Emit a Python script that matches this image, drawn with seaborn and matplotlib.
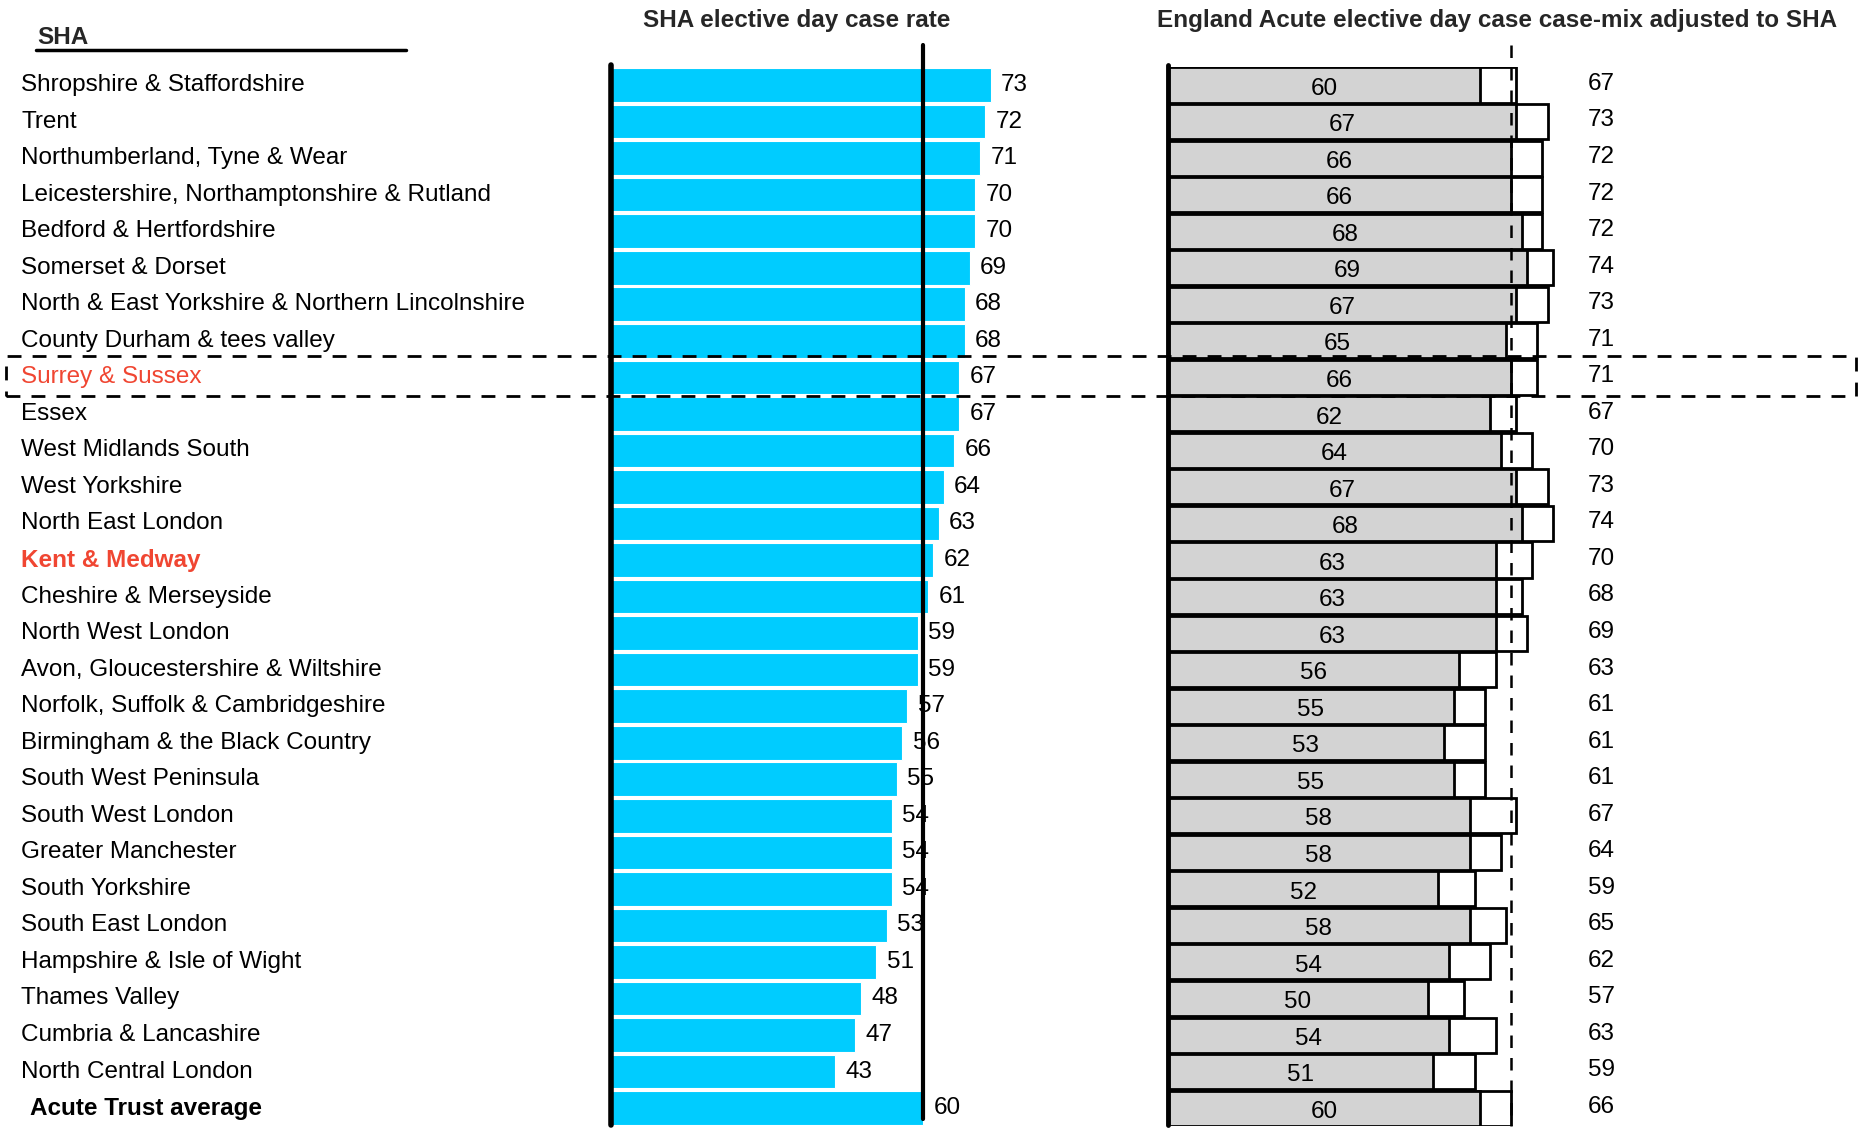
import matplotlib
matplotlib.use("Agg")
import matplotlib.pyplot as plt
import matplotlib.patches as mpatches
import matplotlib.transforms as mtransforms
import seaborn as sns
import pandas as pd

# Strategic Health Authorities, ordered by elective day case rate
sha_names = [
    "Shropshire & Staffordshire", "Trent", "Northumberland, Tyne & Wear",
    "Leicestershire, Northamptonshire & Rutland", "Bedford & Hertfordshire",
    "Somerset & Dorset", "North & East Yorkshire & Northern Lincolnshire",
    "County Durham & tees valley", "Surrey & Sussex", "Essex",
    "West Midlands South", "West Yorkshire", "North East London",
    "Kent & Medway", "Cheshire & Merseyside", "North West London",
    "Avon, Gloucestershire & Wiltshire", "Norfolk, Suffolk & Cambridgeshire",
    "Birmingham & the Black Country", "South West Peninsula",
    "South West London", "Greater Manchester", "South Yorkshire",
    "South East London", "Hampshire & Isle of Wight", "Thames Valley",
    "Cumbria & Lancashire", "North Central London", "Acute Trust average",
]
# SHA elective day case rate (%)
sha_rate = [73, 72, 71, 70, 70, 69, 68, 68, 67, 67, 66, 64, 63, 62, 61, 59,
            59, 57, 56, 55, 54, 54, 54, 53, 51, 48, 47, 43, 60]
# England acute elective day case rate (%)
england_rate = [60, 67, 66, 66, 68, 69, 67, 65, 66, 62, 64, 67, 68, 63, 63, 63,
                56, 55, 53, 55, 58, 58, 52, 58, 54, 50, 54, 51, 60]
# England rate case-mix adjusted to SHA (%)
adjusted_rate = [67, 73, 72, 72, 72, 74, 73, 71, 71, 67, 70, 73, 74, 70, 68, 69,
                 63, 61, 61, 61, 67, 64, 59, 65, 62, 57, 63, 59, 66]
# Reference lines
sha_average = 60
adjusted_average = 66

df = pd.DataFrame({"sha": sha_names, "rate": sha_rate,
                   "england": england_rate, "adjusted": adjusted_rate})

sns.set_theme(style="white")
plt.rcParams["font.family"] = ["Liberation Sans", "DejaVu Sans"]

W, H = 1860, 1128
fig = plt.figure(figsize=(W / 100, H / 100), dpi=100)

row_px = 36.54
top_px = 85 - row_px / 2
bot_px = 85 + 28 * row_px + row_px / 2
scale = 5.2  # pixels per percentage point
xmax = 80


def axes_rect(x0_px):
    return [x0_px / W, 1 - bot_px / H, xmax * scale / W, (bot_px - top_px) / H]


ax_l = fig.add_axes(axes_rect(611))
ax_r = fig.add_axes(axes_rect(1168))

FS = 17.5
blue = "#00CCFF"
red = "#F04632"

# Left panel: SHA rates
sns.barplot(data=df, x="rate", y="sha", orient="h", color=blue, saturation=1,
            width=0.92, edgecolor="white", linewidth=0.8, ax=ax_l)

# Right panel: adjusted (white box) behind England rate (grey)
sns.barplot(data=df, x="adjusted", y="sha", orient="h", color="white",
            saturation=1, width=0.96, edgecolor="black", linewidth=2, ax=ax_r)
sns.barplot(data=df, x="england", y="sha", orient="h", color="#D3D3D3",
            saturation=1, width=0.96, edgecolor="black", linewidth=2, ax=ax_r)

for ax in (ax_l, ax_r):
    ax.set_xlim(0, xmax)
    ax.set_ylim(28.5, -0.5)
    ax.set_xlabel("")
    ax.set_ylabel("")
    ax.set_xticks([])
    ax.set_yticks([])
    for s in ax.spines.values():
        s.set_visible(False)
    ax.patch.set_alpha(0)

# Axis baselines and reference lines
ax_l.plot([0, 0], [-0.55, 28.45], color="black", lw=4, clip_on=False,
          solid_capstyle="round")
ax_l.plot([sha_average, sha_average], [-1.1, 28.3], color="black", lw=3,
          clip_on=False)
ax_r.plot([0, 0], [-0.55, 28.45], color="black", lw=3.5, clip_on=False)
ax_r.plot([adjusted_average, adjusted_average], [-1.1, 28.5], color="black",
          lw=1.8, ls=(0, (5, 4)), clip_on=False, zorder=5)

# Value labels
for i, (r, e, a) in enumerate(zip(sha_rate, england_rate, adjusted_rate)):
    ax_l.text(r + 2.0, i, str(r), ha="left", va="center", fontsize=FS,
              color="black", clip_on=False)
    ax_r.text(e / 2, i + 0.1, str(e), ha="center", va="center", fontsize=FS,
              color="black")
    ax_r.text(83.3, i - 0.03, str(a), ha="center", va="center", fontsize=FS,
              color="black", clip_on=False)

# Row labels
lab_tr = mtransforms.blended_transform_factory(fig.transFigure, ax_l.transData)
for i, name in enumerate(sha_names):
    kw = dict(fontsize=FS, color="black", fontweight="normal")
    x = 21 / W
    if name == "Surrey & Sussex":
        kw["color"] = red
    elif name == "Kent & Medway":
        kw.update(color=red, fontweight="bold")
    elif name == "Acute Trust average":
        kw["fontweight"] = "bold"
        x = 30 / W
    fig.text(x, i, name, transform=lab_tr, ha="left", va="center", **kw)

# Headings
fig.text(37 / W, 1 - 37 / H, "SHA", ha="left", va="center", fontsize=FS,
         fontweight="bold")
fig.add_artist(plt.Line2D([36 / W, 406 / W], [1 - 50 / H, 1 - 50 / H],
                          color="black", lw=2.5))
fig.text(797 / W, 1 - 20 / H, "SHA elective day case rate", ha="center",
         va="center", fontsize=FS, fontweight="bold")
fig.text(1497 / W, 1 - 20 / H,
         "England Acute elective day case case-mix adjusted to SHA",
         ha="center", va="center", fontsize=FS, fontweight="bold")

# Highlight box around Surrey & Sussex
fig.add_artist(mpatches.Rectangle((6 / W, 1 - 396 / H), 1850 / W, 40 / H,
                                  transform=fig.transFigure, fill=False,
                                  edgecolor="black", lw=2, ls=(0, (5, 4)),
                                  zorder=10))

fig.savefig("out.png", dpi=100, facecolor="white")
